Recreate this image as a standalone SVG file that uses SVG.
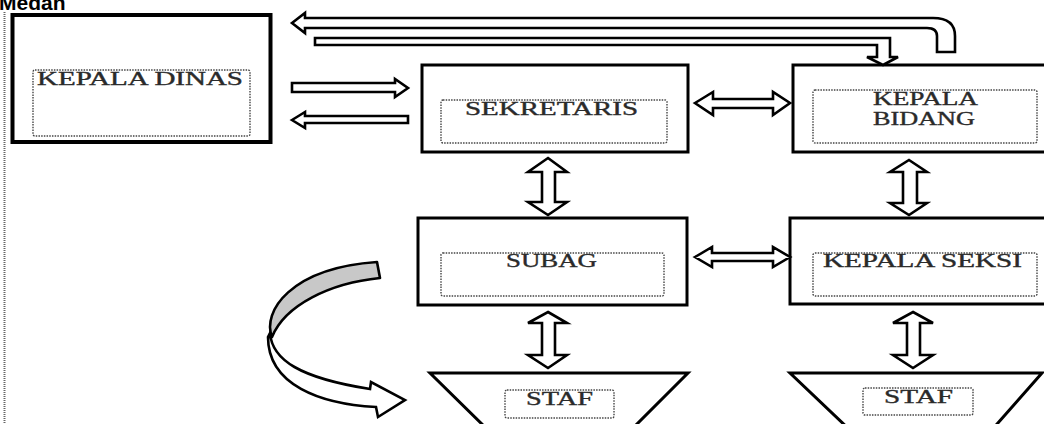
<svg xmlns="http://www.w3.org/2000/svg" width="1044" height="424" viewBox="0 0 1044 424">
<defs>
<style>
.box{fill:#fff;stroke:#000;stroke-width:3}
.inner{fill:none;stroke:#444;stroke-width:1.4;stroke-dasharray:1.5 1.2}
.arr{fill:#fff;stroke:#000;stroke-width:2.6;stroke-linejoin:miter}
.lbl{font-family:"Liberation Serif","Times New Roman",serif;fill:#2a2a2a;stroke:#2a2a2a;stroke-width:0.35;font-size:18px}
</style>
</defs>
<rect width="1044" height="424" fill="#fff"/>
<text x="-1" y="10" font-family="Liberation Sans,Arial,sans-serif" font-weight="bold" font-size="21" fill="#000">Medan</text>
<line x1="4.5" y1="12" x2="4.5" y2="424" stroke="#666" stroke-width="2" stroke-dasharray="1 1"/>

<g id="kepala-dinas">
<rect x="12.5" y="15" width="258" height="127" fill="#fff" stroke="#000" stroke-width="4"/>
<rect class="inner" x="33" y="70" width="217" height="66" rx="2"/>
<text class="lbl" x="37" y="85" font-size="19" textLength="206" lengthAdjust="spacingAndGlyphs">KEPALA DINAS</text>
</g>
<g id="sekretaris">
<rect class="box" x="422" y="65" width="266" height="87"/>
<rect class="inner" x="441" y="100" width="226" height="43" rx="2"/>
<text class="lbl" x="465" y="115" textLength="173" lengthAdjust="spacingAndGlyphs">SEKRETARIS</text>
</g>
<g id="kepala-bidang">
<rect class="box" x="793" y="65" width="300" height="87"/>
<rect class="inner" x="813" y="90" width="224" height="53" rx="2"/>
<text class="lbl" x="873" y="105" font-size="17" textLength="105" lengthAdjust="spacingAndGlyphs">KEPALA</text>
<text class="lbl" x="873" y="125" font-size="17" textLength="102" lengthAdjust="spacingAndGlyphs">BIDANG</text>
</g>
<g id="subag">
<rect class="box" x="418" y="218" width="269" height="87"/>
<rect class="inner" x="441" y="253" width="223" height="43" rx="2"/>
<text class="lbl" x="506" y="267" textLength="91" lengthAdjust="spacingAndGlyphs">SUBAG</text>
</g>
<g id="kepala-seksi">
<rect class="box" x="790" y="218" width="300" height="86"/>
<rect class="inner" x="813" y="253" width="224" height="43" rx="2"/>
<text class="lbl" x="823" y="267" textLength="199" lengthAdjust="spacingAndGlyphs">KEPALA SEKSI</text>
</g>
<g id="staf-1">
<polygon class="box" points="430,373 688,373 629,432 490,432"/>
<rect class="inner" x="505" y="390" width="109" height="28" rx="2"/>
<text class="lbl" x="526" y="405" font-size="17" textLength="67" lengthAdjust="spacingAndGlyphs">STAF</text>
</g>
<g id="staf-2">
<polygon class="box" points="790,373 1042,373 990,432 852,432"/>
<rect class="inner" x="863" y="388" width="110" height="27" rx="2"/>
<text class="lbl" x="884" y="403" font-size="17" textLength="69" lengthAdjust="spacingAndGlyphs">STAF</text>
</g>

<g id="connectors">
<path class="arr" d="M292,23 L305,13 L305,18 L933,18 Q955,18 955,36 L955,52 L937,52 L937,36 Q937,28 927,28 L305,28 L305,33 Z"/>
<path class="arr" d="M315,38 L890,38 L890,57 L898,57 L883,65 L867,57 L877,57 L877,45 L315,45 Z"/>
<path class="arr" d="M292,83 L395,83 L395,79 L408,88 L395,97 L395,92 L292,92 Z"/>
<path class="arr" d="M292,120 L305,112 L305,116 L408,116 L408,123 L305,123 L305,128 Z"/>
<path class="arr" d="M695,103 L713,92 L713,99 L773,99 L773,92 L790,103 L773,115 L773,108 L713,108 L713,115 Z"/>
<path class="arr" d="M695,257 L712,247 L712,253 L773,253 L773,247 L790,257 L773,267 L773,261 L712,261 L712,267 Z"/>
<path class="arr" d="M548,158 L567,172 L555,172 L555,202 L567,202 L548,215 L528,202 L542,202 L542,172 L528,172 Z"/>
<path class="arr" d="M909,160 L927,172 L917,172 L917,203 L927,203 L909,215 L890,203 L903,203 L903,172 L890,172 Z"/>
<path class="arr" d="M548,312 L567,323 L555,323 L555,355 L567,355 L548,368 L528,355 L542,355 L542,323 L528,323 Z"/>
<path class="arr" d="M913,312 L933,323 L920,323 L920,355 L933,355 L913,368 L893,355 L907,355 L907,323 L893,323 Z"/>
<path d="M377,262 L380,278 C330,283 285,305 272,337 C262,312 290,268 377,262 Z" fill="#c8c8c8" stroke="#000" stroke-width="2.6" stroke-linejoin="round"/>
<path class="arr" d="M270,333 C272,360 300,378 370,389 L371,382 L405,400 L378,417 L376,407 C320,404 268,385 268,337 Z"/>
</g>
</svg>
